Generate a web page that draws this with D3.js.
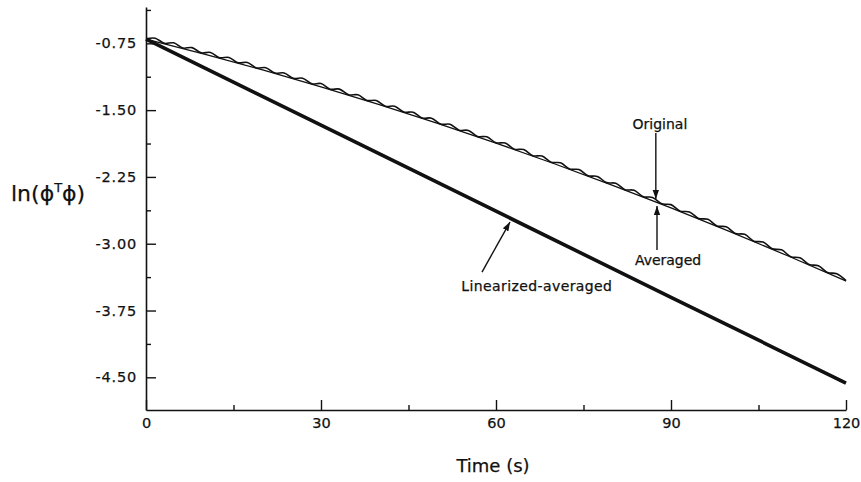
<!DOCTYPE html>
<html>
<head>
<meta charset="utf-8">
<script src="https://cdn.jsdelivr.net/npm/d3@7"></script>
<style>
  html, body { margin: 0; padding: 0; background: #fff; }
  svg { display: block; }
  text { font-family: "DejaVu Sans", sans-serif; fill: #111; stroke: #111; stroke-width: 0.25px; }
</style>
</head>
<body>
<svg id="chart" width="861" height="482"></svg>
<script>
// ---- data ----
const xTicks = [0, 30, 60, 90, 120];
const xMinorTicks = [15, 45, 75, 105];
const xTickLabels = ["0", "30", "60", "90", "120"];
const yTicks = [-0.75, -1.50, -2.25, -3.00, -3.75, -4.50];
const yMinorTicks = [-0.375, -1.125, -1.875, -2.625, -3.375, -4.125];
const yTickLabels = ["-0.75", "-1.50", "-2.25", "-3.00", "-3.75", "-4.50"];

const origTime = [0, 1.58, 3.16, 4.74, 6.32, 7.89, 9.47, 11.05, 12.63, 14.21, 15.79, 17.37, 18.95, 20.53, 22.11, 23.68, 25.26, 26.84, 28.42, 30.00, 31.58, 33.16, 34.74, 36.32, 37.89, 39.47, 41.05, 42.63, 44.21, 45.79, 47.37, 48.95, 50.53, 52.11, 53.68, 55.26, 56.84, 58.42, 60.00, 61.58, 63.16, 64.74, 66.32, 67.89, 69.47, 71.05, 72.63, 74.21, 75.79, 77.37, 78.95, 80.53, 82.11, 83.68, 85.26, 86.84, 88.42, 90.00, 91.58, 93.16, 94.74, 96.32, 97.89, 99.47, 101.05, 102.63, 104.21, 105.79, 107.37, 108.95, 110.53, 112.11, 113.68, 115.26, 116.84, 118.42, 120.00];
const origValue = [-0.700, -0.692, -0.750, -0.744, -0.803, -0.798, -0.857, -0.852, -0.912, -0.908, -0.968, -0.965, -1.026, -1.023, -1.084, -1.082, -1.143, -1.141, -1.204, -1.202, -1.265, -1.264, -1.328, -1.328, -1.391, -1.392, -1.456, -1.457, -1.522, -1.523, -1.589, -1.590, -1.657, -1.659, -1.725, -1.728, -1.795, -1.799, -1.866, -1.870, -1.938, -1.943, -2.011, -2.016, -2.085, -2.091, -2.161, -2.167, -2.237, -2.244, -2.314, -2.321, -2.393, -2.400, -2.472, -2.480, -2.552, -2.561, -2.634, -2.643, -2.716, -2.726, -2.800, -2.810, -2.885, -2.895, -2.971, -2.982, -3.057, -3.069, -3.145, -3.158, -3.234, -3.247, -3.324, -3.337, -3.415];

const avgTime = [0, 10, 20, 30, 40, 50, 60, 70, 80, 90, 100, 110, 120];
const avgValue = [-0.702, -0.870, -1.049, -1.238, -1.438, -1.649, -1.870, -2.102, -2.344, -2.597, -2.861, -3.135, -3.419];

const linTime = [0, 30, 60, 90, 120];
const linValue = [-0.702, -1.668, -2.635, -3.602, -4.564];

const annotations = [
  { text: "Original", tx: 88.1, ty: -1.712, from: [87.4, -1.757], to: [87.4, -2.498] },
  { text: "Averaged", tx: 89.5, ty: -3.239, from: [87.6, -3.070], to: [87.6, -2.576] },
  { text: "Linearized-averaged", tx: 67.0, ty: -3.531, from: [57.6, -3.318], to: [62.4, -2.756] }
];

// ---- chart ----
const svg = d3.select("#chart");
const x = d3.scaleLinear().domain([0, 120]).range([146, 846]);
const y = d3.scaleLinear().domain([-0.342, -4.867]).range([7, 410]);

const defs = svg.append("defs");
defs.append("marker")
  .attr("id", "arrow")
  .attr("viewBox", "0 0 10 10")
  .attr("refX", 10).attr("refY", 5)
  .attr("markerWidth", 9).attr("markerHeight", 9)
  .attr("markerUnits", "userSpaceOnUse")
  .attr("orient", "auto")
  .append("path")
  .attr("d", "M0,1.5 L10,5 L0,8.5 Z")
  .attr("fill", "#111");

// axes
const yAxis = d3.axisLeft(y).tickValues(yTicks).tickSizeInner(-10).tickSizeOuter(0).tickPadding(9)
  .tickFormat((d, i) => yTickLabels[i]);
const gy = svg.append("g").attr("transform", `translate(${x(0)},0)`).call(yAxis);
svg.append("g").attr("transform", `translate(${x(0)},0)`)
  .call(d3.axisLeft(y).tickValues(yMinorTicks).tickSizeInner(-5).tickSizeOuter(0).tickFormat(""))
  .select(".domain").remove();

const xAxis = d3.axisBottom(x).tickValues(xTicks).tickSizeInner(-10).tickSizeOuter(0).tickPadding(8)
  .tickFormat((d, i) => xTickLabels[i]);
const gx = svg.append("g").attr("transform", `translate(0,${y.range()[1]})`).call(xAxis);
svg.append("g").attr("transform", `translate(0,${y.range()[1]})`)
  .call(d3.axisBottom(x).tickValues(xMinorTicks).tickSizeInner(-5).tickSizeOuter(0).tickFormat(""))
  .select(".domain").remove();

svg.selectAll(".domain").attr("stroke", "#111").attr("stroke-width", 1.6);
svg.selectAll(".tick line").attr("stroke", "#111").attr("stroke-width", 1.4);
svg.selectAll(".tick text")
  .style("font-family", "'DejaVu Sans', sans-serif")
  .style("font-size", "14.5px")
  .attr("fill", "#111");
gy.selectAll(".tick text").attr("letter-spacing", "0.8px");

// axis titles
svg.append("text")
  .attr("x", (x(0) + x(120)) / 2 - 3)
  .attr("y", 472)
  .attr("text-anchor", "middle")
  .style("font-size", "18px")
  .text("Time (s)");

const yl = svg.append("text")
  .attr("x", 11)
  .attr("y", 201)
  .style("font-size", "22px");
yl.append("tspan").text("ln(ϕ");
yl.append("tspan").attr("dy", -9).style("font-size", "13px").text("T");
yl.append("tspan").attr("dy", 9).text("ϕ)");

// lines
const line = d3.line().x(d => x(d[0])).y(d => y(d[1]));

svg.append("path")
  .datum(linTime.map((t, i) => [t, linValue[i]]))
  .attr("d", line.curve(d3.curveLinear))
  .attr("fill", "none").attr("stroke", "#111").attr("stroke-width", 3.6);

svg.append("path")
  .datum(avgTime.map((t, i) => [t, avgValue[i]]))
  .attr("d", d3.line().x(d => x(d[0])).y(d => y(d[1])).curve(d3.curveMonotoneX))
  .attr("fill", "none").attr("stroke", "#111").attr("stroke-width", 1.3);

svg.append("path")
  .datum(origTime.map((t, i) => [t, origValue[i]]))
  .attr("d", d3.line().x(d => x(d[0])).y(d => y(d[1])).curve(d3.curveCatmullRom.alpha(0.5)))
  .attr("fill", "none").attr("stroke", "#111").attr("stroke-width", 1.6);

// annotations
annotations.forEach(a => {
  svg.append("line")
    .attr("x1", x(a.from[0])).attr("y1", y(a.from[1]))
    .attr("x2", x(a.to[0])).attr("y2", y(a.to[1]))
    .attr("stroke", "#111").attr("stroke-width", 1.4)
    .attr("marker-end", "url(#arrow)");
  svg.append("text")
    .attr("x", x(a.tx)).attr("y", y(a.ty))
    .attr("text-anchor", "middle")
    .attr("letter-spacing", a.text.length > 10 ? "0.4px" : "0px")
    .style("font-size", "14px")
    .text(a.text);
});
</script>
</body>
</html>
